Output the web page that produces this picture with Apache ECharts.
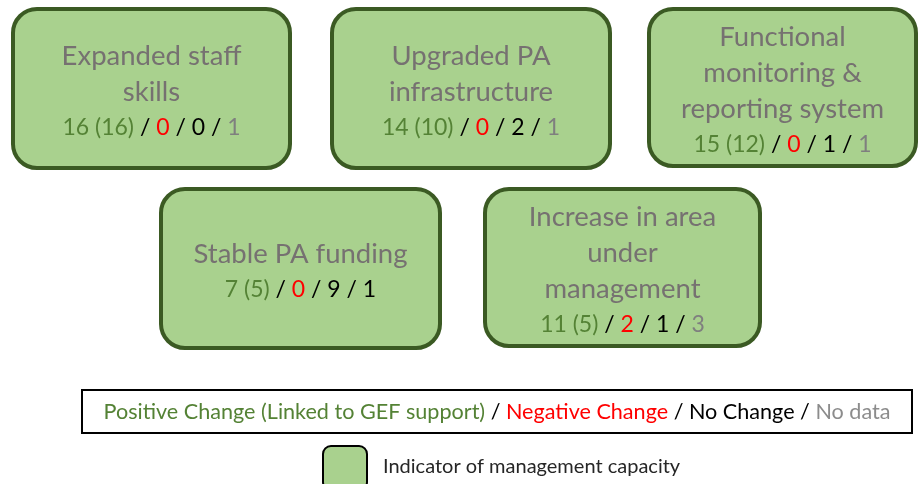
<!DOCTYPE html>
<html>
<head>
<meta charset="utf-8">
<script src="https://cdn.jsdelivr.net/npm/echarts@6/dist/echarts.min.js"></script>
<style>
  html, body { margin: 0; padding: 0; background: #fff; }
  #main { width: 919px; height: 484px; }
</style>
</head>
<body>
<div id="main"></div>
<script>
// indicators of management capacity and how many PAs changed
const indicators = [
    'Expanded staff\nskills',
    'Upgraded PA\ninfrastructure',
    'Functional\nmonitoring &\nreporting system',
    'Stable PA funding',
    'Increase in area\nunder\nmanagement'
];
const positive = [16, 14, 15, 7, 11];
const linkedToGef = [16, 10, 12, 5, 5];
const negative = [0, 0, 0, 0, 2];
const noChange = [0, 2, 1, 9, 1];
const noData = [1, 1, 1, 1, 3];
// the "no data" figure of the funding box is printed black in the original
const noDataTone = ['n', 'n', 'n', 'k', 'n'];

const legendText = '{g|Positive Change (Linked to GEF support)}{k| / }{r|Negative Change}{k| / No Change / }{n|No data}';
const keyText = 'Indicator of management capacity';

// box layout, [x0, y0, x1, y1] in page pixels
const boxRects = [
    [11, 7, 292, 170],
    [330, 7, 612, 170],
    [647, 7, 918, 168],
    [159, 187, 442, 350],
    [483, 187, 762, 348]
];

const FONT = 'Lato, "Liberation Sans", sans-serif';
const FILL = '#a9d18e';
const EDGE = '#3b5a23';

const rich = {
    t: { fill: '#767171', fontSize: 27.5, lineHeight: 36, fontFamily: FONT },
    g: { fill: '#548235', fontSize: 23, lineHeight: 34, fontFamily: FONT },
    r: { fill: '#ff0000', fontSize: 23, lineHeight: 34, fontFamily: FONT },
    k: { fill: '#000000', fontSize: 23, lineHeight: 34, fontFamily: FONT },
    n: { fill: '#7f7f7f', fontSize: 23, lineHeight: 34, fontFamily: FONT }
};

const boxData = indicators.map((name, i) => ({
    value: boxRects[i],
    label: name.split('\n').map(s => '{t|' + s + '}').join('\n') + '\n' +
        '{g|' + positive[i] + ' (' + linkedToGef[i] + ')}{k| / }{r|' + negative[i] + '}' +
        '{k| / ' + noChange[i] + ' / }{' + noDataTone[i] + '|' + noData[i] + '}'
}));

const chart = echarts.init(document.getElementById('main'));

chart.setOption({
    animation: false,
    grid: { left: 0, right: 0, top: 0, bottom: 0 },
    xAxis: { type: 'value', min: 0, max: 919, show: false },
    yAxis: { type: 'value', min: 0, max: 484, inverse: true, show: false },
    series: [{
        type: 'custom',
        data: boxData,
        renderItem: function (params, api) {
            const d = boxData[params.dataIndex];
            const p0 = api.coord([api.value(0), api.value(1)]);
            const p1 = api.coord([api.value(2), api.value(3)]);
            const w = p1[0] - p0[0];
            const h = p1[1] - p0[1];
            return {
                type: 'group',
                children: [{
                    type: 'rect',
                    shape: { x: p0[0] + 2, y: p0[1] + 2, width: w - 4, height: h - 4, r: 24 },
                    style: { fill: FILL, stroke: EDGE, lineWidth: 4 }
                }, {
                    type: 'text',
                    x: p0[0] + w / 2,
                    y: p0[1] + h / 2 + 3,
                    style: {
                        text: d.label,
                        align: 'center',
                        verticalAlign: 'middle',
                        rich: rich
                    }
                }]
            };
        }
    }],
    graphic: [{
        type: 'rect',
        shape: { x: 82, y: 390, width: 830, height: 43 },
        style: { fill: '#fff', stroke: '#000', lineWidth: 2 }
    }, {
        type: 'text',
        x: 497,
        y: 412,
        style: {
            text: legendText,
            align: 'center',
            verticalAlign: 'middle',
            rich: {
                g: { fill: '#548235', fontSize: 21.6, fontFamily: FONT },
                r: { fill: '#ff0000', fontSize: 21.6, fontFamily: FONT },
                k: { fill: '#000000', fontSize: 21.6, fontFamily: FONT },
                n: { fill: '#8c8c8c', fontSize: 21.6, fontFamily: FONT }
            }
        }
    }, {
        type: 'rect',
        shape: { x: 323, y: 446, width: 44, height: 44, r: 8 },
        style: { fill: FILL, stroke: '#000', lineWidth: 2 }
    }, {
        type: 'text',
        x: 383,
        y: 467,
        style: {
            text: keyText,
            fill: '#262626',
            font: '20px ' + FONT,
            verticalAlign: 'middle'
        }
    }]
});
</script>
</body>
</html>
